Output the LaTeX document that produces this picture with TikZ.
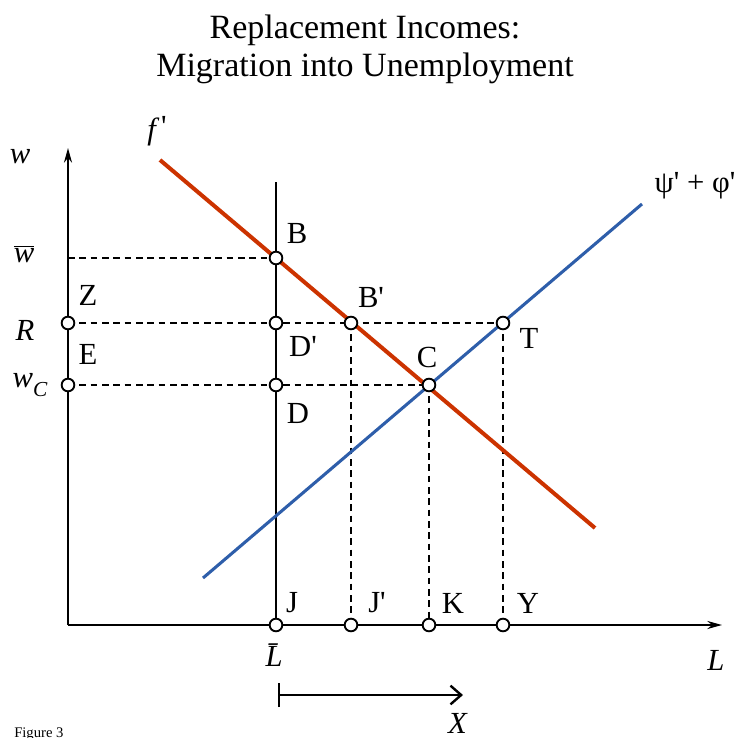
\documentclass[tikz,border=0pt]{standalone}
\usepackage{fontspec}
\setmainfont{Liberation Serif}
\usetikzlibrary{arrows.meta}
\definecolor{fred}{RGB}{204,51,0}
\definecolor{gblue}{RGB}{46,94,170}
\newcommand{\pq}{\textquotesingle}
\tikzset{
  lbl/.style={font=\fontsize{23}{27}\selectfont, inner sep=0pt},
  ttl/.style={font=\fontsize{25.5}{30}\selectfont, inner sep=0pt},
  dot/.style={circle, draw=black, fill=white, line width=1.4pt, minimum size=9.5pt, inner sep=0pt},
  axis/.style={line width=1.6pt},
  guide/.style={line width=1.2pt, dash pattern=on 5pt off 3.5pt},
}
\begin{document}
\begin{tikzpicture}[x=0.75pt,y=-0.75pt]
\path[use as bounding box] (0,0) rectangle (739,738);
% title
\node[ttl] (t1) at (365,30) {Replacement Incomes:};
\node[ttl] (t2) at (365,68) {Migration into Unemployment};
% points
\coordinate (O) at (68,625);
\coordinate (ytop) at (68,148);
\coordinate (xend) at (722,625);
\coordinate (ltop) at (276,182);
\coordinate (wbar) at (68,258);
\coordinate (pB) at (276,258);
\coordinate (pZ) at (68,323);
\coordinate (pDp) at (276,323);
\coordinate (pBp) at (351,323);
\coordinate (pT) at (503,323);
\coordinate (pE) at (68,385);
\coordinate (pD) at (276,385);
\coordinate (pC) at (429,385);
\coordinate (pJ) at (276,625);
\coordinate (pJp) at (351,625);
\coordinate (pK) at (429,625);
\coordinate (pY) at (503,625);
\coordinate (f1) at (160,160);
\coordinate (f2) at (595,528);
\coordinate (g1) at (203,578);
\coordinate (g2) at (642,204);
% guides
\draw[guide] (wbar) -- (pB);
\draw[guide] (pZ) -- (pT);
\draw[guide] (pE) -- (pC);
\draw[guide] (pBp) -- (pJp);
\draw[guide] (pC) -- (pK);
\draw[guide] (pT) -- (pY);
% axes
\draw[axis, -{Stealth[length=11pt,width=6pt]}] (O) -- (ytop);
\draw[axis, -{Stealth[length=11pt,width=6pt]}] (O) -- (xend);
\draw[axis] (pJ) -- (ltop);
% curves
\draw[fred, line width=3pt] (f1) -- (f2);
\draw[gblue, line width=2.3pt] (g1) -- (g2);
% dots
\foreach \p in {pB,pZ,pDp,pBp,pT,pE,pD,pC,pJ,pJp,pK,pY}
  \node[dot] (d\p) at (\p) {};
% labels
\node[lbl] (lw) at (20,157) {\textit{w}};
\node[lbl] (lwbar) at (24,254) {$\overline{\mbox{\textit{w}}}$};
\node[lbl] (lR) at (25,330) {\textit{R}};
\node[lbl] (lwc) at (30,385) {\textit{w}\raisebox{-0.6ex}{\fontsize{16}{18}\selectfont\textit{C}}};
\node[lbl] (lf) at (157,131) {\textit{f\,}\raisebox{0.2ex}{\pq}};
\node[lbl] (lpsi) at (695,186) {ψ\pq{} + φ\pq};
\node[lbl] (lZ) at (88,295) {Z};
\node[lbl] (lE) at (88,354) {E};
\node[lbl] (lB) at (297,234) {B};
\node[lbl] (lBp) at (371,298) {B\pq};
\node[lbl] (lDp) at (303,346) {D\pq};
\node[lbl] (lC) at (427,357) {C};
\node[lbl] (lT) at (529,338) {T};
\node[lbl] (lD) at (298,413) {D};
\node[lbl] (lJ) at (292,603) {J};
\node[lbl] (lJp) at (377,603) {J\pq};
\node[lbl] (lK) at (453,603) {K};
\node[lbl] (lY) at (528,603) {Y};
\node[lbl] (lLbar) at (278,655) {\textit{\=L}};
\node[lbl] (lL) at (716,660) {\textit{L}};
\node[lbl] (lX) at (458,723) {\textit{X}};
\node[font=\fontsize{11}{13}\selectfont, inner sep=0pt, anchor=west] (fig) at (14,734) {Figure 3};
% X arrow
\coordinate (xa) at (278,695);
\coordinate (xb) at (463,695);
\draw[line width=1.8pt, {Bar[width=18pt]}-{Straight Barb[length=8pt,width=14pt]}] (xa) -- (xb);
\end{tikzpicture}
\end{document}
